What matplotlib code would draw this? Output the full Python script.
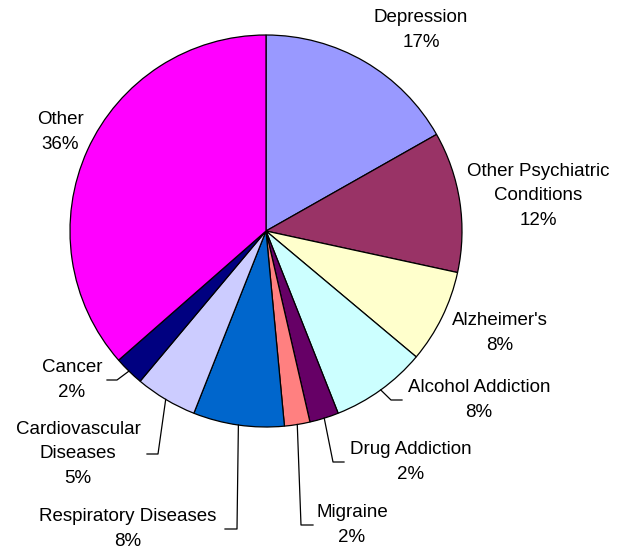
import matplotlib
matplotlib.use("Agg")
import matplotlib.pyplot as plt
import numpy as np

plt.rcParams['font.family'] = ['Liberation Sans', 'DejaVu Sans']

labels = ["Depression", "Other Psychiatric\nConditions", "Alzheimer's", "Alcohol Addiction",
          "Drug Addiction", "Migraine", "Respiratory Diseases", "Cardiovascular\nDiseases",
          "Cancer", "Other"]
values = [16.8, 11.6, 7.7, 7.9, 2.4, 2.1, 7.5, 5.1, 2.45, 36.45]
colors = ["#9999FF", "#993366", "#FFFFCC", "#CCFFFF", "#660066", "#FF8080",
          "#0066CC", "#CCCCFF", "#000080", "#FF00FF"]

W, H = 621, 552
fig = plt.figure(figsize=(W / 100, H / 100), dpi=100)
ax = fig.add_axes([0, 0, 1, 1])

cx, cy, R = 266, H - 231, 196
wedges, _ = ax.pie(values, colors=colors, startangle=90, counterclock=False,
                   center=(cx, cy), radius=R, frame=True,
                   wedgeprops=dict(edgecolor='black', linewidth=0.9))
ax.set_xlim(0, W)
ax.set_ylim(0, H)
ax.set_aspect('equal')
ax.axis('off')

# label layout: text centre (pixels from top-left), elbow x for leader (None = no leader)
layout = [
    ((421, 30), None),
    ((538, 196), None),
    ((500, 333), None),
    ((479, 400), (391, 'L')),
    ((411, 462), (333, 'L')),
    ((352, 525), (301, 'L')),
    ((128, 529), (237, 'R')),
    ((78, 454), (158, 'R')),
    ((72, 380), (117, 'R')),
    ((60, 132), None),
]
text_half_w = {3: 74, 4: 64, 5: 36, 6: 94, 7: 66, 8: 32}

total = sum(values)
for i, (w, lab, v, (pos, lead)) in enumerate(zip(wedges, labels, values, layout)):
    tx, ty = pos[0], H - pos[1]
    pct = v / total * 100
    ax.text(tx, ty, f"{lab}\n{pct:.0f}%", ha='center', va='center', fontsize=13.5,
            linespacing=1.6, color='black')
    if lead is not None:
        ang = np.deg2rad((w.theta1 + w.theta2) / 2)
        sx, sy = cx + R * np.cos(ang), cy + R * np.sin(ang)
        ex, side = lead
        half = text_half_w[i] + 3
        endx = tx - half if side == 'L' else tx + half
        ax.plot([sx, ex, endx], [sy, ty, ty], color='black', linewidth=0.9)

fig.savefig("out.png", dpi=100)
